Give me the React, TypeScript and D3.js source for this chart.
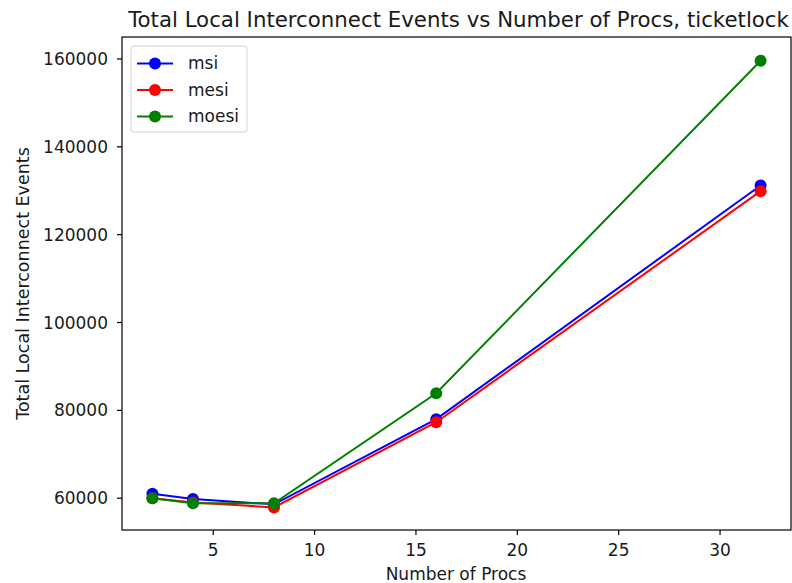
import React from "react";
import * as d3 from "d3";

const procs = [2, 4, 8, 16, 32];
const msi = [61000, 59800, 58600, 78000, 131200];
const mesi = [60000, 59000, 57900, 77300, 129900];
const moesi = [60000, 58850, 58850, 83900, 159600];
const xTicks = [5, 10, 15, 20, 25, 30];
const yTicks = [60000, 80000, 100000, 120000, 140000, 160000];

const seriesNames = ["msi", "mesi", "moesi"];
const seriesValues = [msi, mesi, moesi];
const seriesColors = ["#0000ff", "#ff0000", "#008000"];

const W = 792;
const H = 583;
const left = 122;
const right = 791;
const top = 37;
const bottom = 530;
const font = "DejaVu Sans, sans-serif";

export default function App() {
  const x = d3.scaleLinear().domain([0.5, 33.5]).range([left, right]);
  const y = d3.scaleLinear().domain([52760, 165000]).range([bottom, top]);
  const line = d3
    .line<number>()
    .x((_, i) => x(procs[i]))
    .y((d) => y(d));

  return (
    <svg
      width={W}
      height={H}
      style={{ position: "absolute", left: 0, top: 0, background: "#fff" }}
      fontFamily={font}
    >
      <text x={(left + right) / 2 + 2} y={27} textAnchor="middle" fontSize={21.3} fill="#1a1a1a">
        Total Local Interconnect Events vs Number of Procs, ticketlock
      </text>

      {seriesValues.map((vals, s) => (
        <g key={seriesNames[s]}>
          <path d={line(vals) || ""} fill="none" stroke={seriesColors[s]} strokeWidth={2} />
          {vals.map((v, i) => (
            <circle key={i} cx={x(procs[i])} cy={y(v)} r={6} fill={seriesColors[s]} />
          ))}
        </g>
      ))}

      <rect
        x={left}
        y={top}
        width={right - left}
        height={bottom - top}
        fill="none"
        stroke="#000"
        strokeWidth={1.2}
      />

      {xTicks.map((t) => (
        <g key={t} transform={`translate(${x(t)},${bottom})`}>
          <line y2={5} stroke="#000" strokeWidth={1.2} />
          <text y={26} textAnchor="middle" fontSize={17} fill="#1a1a1a">
            {t}
          </text>
        </g>
      ))}
      {yTicks.map((t) => (
        <g key={t} transform={`translate(${left},${y(t)})`}>
          <line x2={-5} stroke="#000" strokeWidth={1.2} />
          <text x={-14} dy="0.36em" textAnchor="end" fontSize={17} fill="#1a1a1a">
            {t}
          </text>
        </g>
      ))}

      <text x={456} y={580} textAnchor="middle" fontSize={17} fill="#1a1a1a">
        Number of Procs
      </text>
      <text
        transform={`translate(29,${(top + bottom) / 2}) rotate(-90)`}
        textAnchor="middle"
        fontSize={17.5}
        fill="#1a1a1a"
      >
        Total Local Interconnect Events
      </text>

      <g>
        <rect
          x={131}
          y={46}
          width={116}
          height={86}
          rx={3}
          fill="#fff"
          fillOpacity={0.8}
          stroke="#d0d0d0"
          strokeWidth={1}
        />
        {seriesNames.map((name, s) => {
          const ly = 63.5 + s * 26.5;
          return (
            <g key={name}>
              <line x1={137} x2={173} y1={ly} y2={ly} stroke={seriesColors[s]} strokeWidth={2} />
              <circle cx={155} cy={ly} r={6} fill={seriesColors[s]} />
              <text x={188} y={ly} dy="0.35em" fontSize={17} fill="#1a1a1a">
                {name}
              </text>
            </g>
          );
        })}
      </g>
    </svg>
  );
}
